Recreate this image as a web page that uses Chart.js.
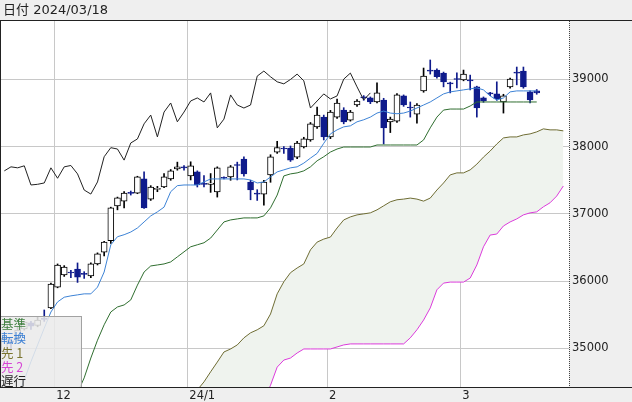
<!DOCTYPE html>
<html>
<head>
<meta charset="utf-8">
<style>
  html, body { margin: 0; padding: 0; background: #efefef; }
  canvas { display: block; }
</style>
</head>
<body>
<canvas id="chart" width="632" height="402"></canvas>
<script src="https://cdn.jsdelivr.net/npm/chart.js@4.4.1/dist/chart.umd.min.js"></script>
<script>
// header + axis labels
const headerText = '日付 2024/03/18';
const yTicks = [35000, 36000, 37000, 38000, 39000];
const xTickSlots = [7.5, 27.5, 48.5, 68.5];
const xTickLabels = ['12', '24/1', '2', '3'];
const legendLabels = ['基準', '転換', '先 1', '先 2', '遅行'];

// daily candles, one slot per trading day
const opens = [
  34950, 35110, 35150, 35290, 35380, 35340, 35440, 35600, 35910, 36090,
  36130, 36180, 36115, 36075, 36255, 36430, 36600, 37120, 37190, 37320,
  37310, 37520, 37220, 37365, 37400, 37520, 37670, 37695, 37565, 37625,
  37450, 37440, 37325, 37540, 37550, 37735, 37815, 37475, 37310, 37295,
  37580, 37920, 37980, 37980, 37845, 37995, 38100, 38295, 38440, 38145,
  38440, 38545, 38395, 38620, 38740, 38725, 38665, 38695, 38370, 38380,
  38755, 38590, 38485, 38830, 39135, 39140, 39095, 38945, 39015, 38995,
  38990, 38890, 38725, 38790, 38785, 38665, 38890, 39110, 39125, 38815,
  38830
];
const highs = [
  35180, 35140, 35320, 35400, 35400, 35460, 35570, 35970, 36255, 36230,
  36160, 36270, 36140, 36270, 36420, 36590, 37100, 37250, 37330, 37340,
  37560, 37625, 37420, 37410, 37600, 37660, 37770, 37720, 37775, 37640,
  37570, 37600, 37700, 37550, 37720, 37770, 37850, 37500, 37360, 37500,
  37880, 38080, 38000, 38010, 38080, 38140, 38360, 38590, 38470, 38540,
  38710, 38580, 38540, 38700, 38760, 38740, 38950, 38720, 38440, 38790,
  38770, 38665, 38640, 39170, 39290, 39160, 39110, 38960, 39100, 39140,
  39065, 38900, 38740, 38810, 38965, 38780, 39020, 39185, 39185, 38830,
  38850
];
const lows = [
  34920, 34960, 35120, 35270, 35280, 35320, 35400, 35590, 35900, 36070,
  36050, 35980, 36040, 36050, 36240, 36375, 36560, 37060, 37090, 37280,
  37300, 37080, 37200, 37330, 37390, 37500, 37650, 37650, 37505, 37400,
  37400, 37320, 37250, 37520, 37500, 37505, 37560, 37210, 37200, 37130,
  37470, 37900, 37900, 37780, 37820, 37980, 38080, 38270, 38100, 38120,
  38420, 38340, 38380, 38600, 38690, 38640, 38650, 38040, 38210, 38360,
  38600, 38440, 38350, 38810, 39080, 39020, 38890, 38800, 38875, 38980,
  38845, 38440, 38660, 38760, 38690, 38500, 38870, 38920, 38870, 38650,
  38780
];
const closes = [
  35150, 35090, 35270, 35390, 35330, 35420, 35430, 35955, 36240, 36210,
  36120, 36060, 36100, 36255, 36405, 36580, 37090, 37240, 37310, 37305,
  37550, 37090, 37400, 37375, 37550, 37640, 37700, 37685, 37715, 37430,
  37440, 37460, 37685, 37530, 37700, 37720, 37595, 37355, 37295, 37475,
  37850, 37985, 37965, 37800, 38055, 38115, 38340, 38470, 38145, 38515,
  38650, 38370, 38515, 38680, 38725, 38665, 38800, 38280, 38410, 38770,
  38620, 38575, 38620, 39050, 39125, 39040, 38965, 38935, 39000, 39080,
  38980, 38575, 38680, 38785, 38710, 38755, 39005, 39095, 38890, 38695,
  38800
];

// ichimoku lines (null = not on the chart)
const tenkan = [
  34050, 34150, 34300, 34530, 34800, 35050, 35300, 35540, 35690, 35760,
  35780, 35795, 35810, 35810, 35910, 36135, 36540, 36660, 36690, 36730,
  36790, 36880, 36970, 37030, 37100, 37330, 37420, 37430, 37430, 37430,
  37475, 37520, 37520, 37520, 37520, 37520, 37520, 37505, 37460, 37475,
  37550, 37625, 37655, 37685, 37700, 37755, 37830, 37900, 38050, 38190,
  38250, 38295, 38310, 38370, 38400, 38440, 38500, 38530, 38500, 38490,
  38500, 38530, 38575, 38620, 38665, 38725, 38785, 38815, 38830, 38845,
  38860, 38875, 38845, 38755, 38695, 38725, 38815, 38830, 38830, 38830,
  38830
];
const kijun = [
  null, null, null, null, null, null, null, null,
  34250, 34280, 34300, 34340, 34560, 34855, 35120, 35350, 35540, 35615,
  35645, 35720, 35940, 36135, 36225, 36240, 36255, 36285, 36360, 36435,
  36510, 36540, 36570, 36640, 36760, 36880, 36910, 36925, 36940, 36940,
  36940, 36970, 37090, 37280, 37565, 37595, 37610, 37640, 37700, 37790,
  37850, 37920, 37965, 37995, 37995, 37995, 37995, 37995, 38025, 38025,
  38025, 38025, 38025, 38025, 38025, 38100, 38280, 38440, 38545, 38560,
  38560, 38560, 38605, 38665, 38665, 38665, 38665, 38665, 38665, 38665,
  38665, 38665, 38665
];
const span1 = [
  null, null, null, null, null, null, null, null, null, null,
  null, null, null, null, null, null, null, null, null, null,
  null, null, null, null, null, null,
  34050, 34150, 34260, 34380, 34500, 34650, 34795, 34945, 34990, 35050,
  35155, 35230, 35275, 35335, 35510, 35810, 35990, 36125, 36195, 36255,
  36465, 36580, 36625, 36655, 36790, 36910, 36955, 36985, 37000, 37015,
  37060, 37120, 37180, 37210, 37220, 37235, 37220, 37190, 37235, 37355,
  37460, 37580, 37610, 37610, 37655, 37740, 37845, 37935, 38040, 38130,
  38145, 38145, 38175, 38190, 38220, 38265, 38250, 38250, 38235
];
const span2 = [
  null, null, null, null, null, null, null, null, null, null,
  null, null, null, null, null, null, null, null, null, null,
  null, null, null, null, null, null,
  33800, 33850, 33900, 33950, 34000, 34020, 34050, 34080, 34100, 34120,
  34150, 34170, 34200, 34230, 34450, 34720, 34825, 34855, 34930, 34990,
  34990, 34990, 34990, 34990, 35020, 35050, 35065, 35065, 35065, 35065,
  35065, 35065, 35065, 35065, 35065, 35155, 35275, 35420, 35600, 35870,
  35970, 35985, 35985, 35985, 36045, 36240, 36510, 36685, 36700, 36820,
  36880, 36925, 36985, 37015, 37030, 37105, 37165, 37265, 37415
];
const chikou = [
  37640, 37700, 37685, 37715, 37430, 37440, 37460, 37685, 37530, 37700,
  37720, 37595, 37355, 37295, 37475, 37850, 37985, 37965, 37800, 38055,
  38115, 38340, 38470, 38145, 38515, 38650, 38370, 38515, 38680, 38725,
  38665, 38800, 38280, 38410, 38770, 38620, 38575, 38620, 39050, 39125,
  39040, 38965, 38935, 39000, 39080, 38980, 38575, 38680, 38785, 38710,
  38755, 39005, 39095, 38890, 38695, 38800
];

const NAVY = '#0f1b8c';
const COL_KIJUN = '#2f6e2f';
const COL_TENKAN = '#3d83d6';
const COL_SPAN1 = '#6f6d34';
const COL_SPAN2 = '#dc3cdc';
const COL_CHIKOU = '#222222';
const KUMO = '#eff3ee';
const legendColors = ['#3f7f3f', '#3a7fd4', '#7b7530', '#d646d6', '#222222'];

const pts = arr => arr.map((v, i) => ({ x: i, y: v }));
const isUp = i => closes[i] >= opens[i];

function lineSet(label, arr, color, order, extra) {
    return Object.assign({
        type: 'line', label: label, data: pts(arr),
        borderColor: color, borderWidth: 1, pointRadius: 0,
        tension: 0, fill: false, spanGaps: false, order: order
    }, extra || {});
}

// frame, header, legend box
const chrome = {
    id: 'chrome',
    beforeDraw(chart) {
        const { ctx, chartArea: a, width, height } = chart;
        ctx.save();
        ctx.fillStyle = '#efefef';
        ctx.fillRect(0, 0, width, height);
        ctx.fillStyle = '#ffffff';
        ctx.fillRect(a.left, a.top, a.right - a.left, a.bottom - a.top);
        ctx.restore();
    },
    afterDatasetsDraw(chart) {
        const { ctx, chartArea: a } = chart;
        ctx.save();
        ctx.fillStyle = 'rgba(234,234,234,0.86)';
        ctx.fillRect(a.left, 316, 80, a.bottom - 316);
        ctx.strokeStyle = '#a2a2a2';
        ctx.lineWidth = 1;
        ctx.strokeRect(0.5, 316.5, 81, a.bottom - 316);
        ctx.font = '12.5px "Noto Sans CJK JP"';
        ctx.textBaseline = 'middle';
        legendLabels.forEach((t, k) => {
            ctx.fillStyle = legendColors[k];
            ctx.fillText(t, 1, 324 + k * 14.4);
        });
        ctx.restore();
    },
    afterDraw(chart) {
        const { ctx, chartArea: a, width } = chart;
        ctx.save();
        ctx.strokeStyle = '#222';
        ctx.lineWidth = 1;
        ctx.beginPath();
        ctx.moveTo(0, 20.5); ctx.lineTo(width, 20.5);
        ctx.moveTo(0.5, 20); ctx.lineTo(0.5, a.bottom);
        ctx.moveTo(0, a.bottom + 0.5); ctx.lineTo(width, a.bottom + 0.5);
        ctx.stroke();
        // dotted price-axis edge
        ctx.strokeStyle = '#444';
        ctx.setLineDash([1, 1]);
        ctx.beginPath();
        ctx.moveTo(Math.round(a.right) + 0.5, 21);
        ctx.lineTo(Math.round(a.right) + 0.5, a.bottom);
        ctx.stroke();
        ctx.setLineDash([]);
        ctx.fillStyle = '#222';
        ctx.font = '13px "DejaVu Sans", "Noto Sans CJK JP"';
        ctx.textBaseline = 'middle';
        ctx.fillText(headerText, 3, 10.5);
        ctx.restore();
    }
};

const slots = closes.map((_, i) => i);

new Chart(document.getElementById('chart'), {
    type: 'bar',
    data: {
        datasets: [
            lineSet('先 1', span1, COL_SPAN1, 6, { fill: '+1', backgroundColor: KUMO }),
            lineSet('先 2', span2, COL_SPAN2, 5),
            {
                type: 'bar', label: 'wick',
                data: slots.map(i => ({ x: i, y: [lows[i], highs[i]] })),
                backgroundColor: c => isUp(c.dataIndex) ? '#000000' : NAVY,
                barThickness: 1, grouped: false, order: 4
            },
            {
                type: 'bar', label: 'body',
                data: slots.map(i => ({ x: i, y: [opens[i], closes[i]] })),
                backgroundColor: c => isUp(c.dataIndex) ? '#ffffff' : NAVY,
                borderColor: c => isUp(c.dataIndex) ? '#000000' : NAVY,
                borderWidth: 1, borderSkipped: false, minBarLength: 1,
                barThickness: 6, grouped: false, order: 3
            },
            lineSet('基準', kijun, COL_KIJUN, 2),
            lineSet('転換', tenkan, COL_TENKAN, 1),
            lineSet('遅行', chikou, COL_CHIKOU, 0)
        ]
    },
    options: {
        responsive: false,
        animation: false,
        events: [],
        layout: { padding: { left: 1, top: 21, right: 0, bottom: 0 } },
        plugins: { legend: { display: false }, tooltip: { enabled: false } },
        scales: {
            x: {
                type: 'linear', min: -0.5, max: 84.85, offset: false,
                afterBuildTicks: s => { s.ticks = xTickSlots.map(v => ({ value: v })); },
                afterFit: s => { s.height = 15; },
                grid: { color: '#c8c8c8', drawTicks: false, offset: false },
                border: { display: false },
                ticks: {
                    align: 'start', labelOffset: 2, padding: 2, maxRotation: 0, autoSkip: false,
                    color: '#222', font: { family: 'DejaVu Sans', size: 11.5 },
                    callback: (v, i) => xTickLabels[i]
                }
            },
            y: {
                type: 'linear', position: 'right', min: 34424, max: 39870,
                afterBuildTicks: s => { s.ticks = yTicks.map(v => ({ value: v })); },
                afterFit: s => { s.width = 63; },
                grid: { color: '#c8c8c8', drawTicks: false },
                border: { display: false },
                ticks: {
                    padding: 3, color: '#222', font: { family: 'DejaVu Sans', size: 11.5 },
                    callback: v => String(v)
                }
            }
        }
    },
    plugins: [chrome]
});
</script>
</body>
</html>
